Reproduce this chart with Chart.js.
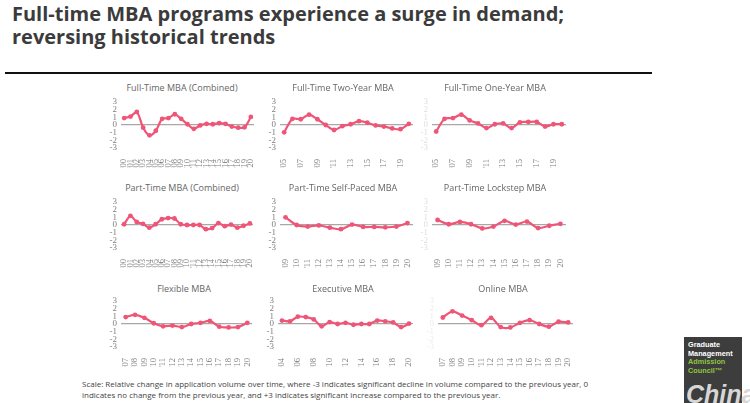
<!DOCTYPE html>
<html><head><meta charset="utf-8">
<script src="https://cdn.jsdelivr.net/npm/chart.js@4/dist/chart.umd.min.js"></script>
<style>
body{margin:0;width:750px;height:403px;background:#fff;position:relative;overflow:hidden;font-family:"Open Sans",sans-serif}
#title{position:absolute;left:12px;top:2px;font:700 20px/23px "Open Sans",sans-serif;color:#3b3b3b;white-space:nowrap}
#rule{position:absolute;left:5px;top:72px;width:647px;height:2px;background:#111}
.ct{position:absolute;width:220px;text-align:center;font:9px/11px "Open Sans",sans-serif;color:#666;white-space:nowrap}
.cw{position:absolute}
#foot{position:absolute;left:82px;top:379px;font:8px/10.5px "Open Sans",sans-serif;color:#444;white-space:nowrap}
#logo{position:absolute;left:684px;top:337px;width:58px;height:66px;background:#3d3d3d;overflow:hidden}
#logo .t{position:absolute;left:4px;top:4px;font:700 7.3px/8.6px "Liberation Sans",sans-serif;color:#fff;white-space:nowrap}
#logo .g{color:#8dc63f}
#china{position:absolute;left:686px;top:381px;font:italic 700 25px/26px "Liberation Sans",sans-serif;color:#d6d6d6;white-space:nowrap}
</style></head>
<body>
<div id="title">Full-time MBA programs experience a surge in demand;<br>reversing historical trends</div>
<div id="rule"></div>
<div id="foot">Scale: Relative change in application volume over time, where -3 indicates significant decline in volume compared to the previous year, 0<br>indicates no change from the previous year, and +3 indicates significant increase compared to the previous year.</div>
<div id="logo"><div class="t">Graduate<br>Management<br><span class="g">Admission<br>Council™</span></div></div>
<div id="china">China</div>
<script>
// ---- categories (years) ----
const years00to20 = ["'00","'01","'02","'03","'04","'05","'06","'07","'08","'09","'10","'11","'12","'13","'14","'15","'16","'17","'18","'19","'20"];
const years05to20 = ["'05","'06","'07","'08","'09","'10","'11","'12","'13","'14","'15","'16","'17","'18","'19","'20"];
const years09to20 = ["'09","'10","'11","'12","'13","'14","'15","'16","'17","'18","'19","'20"];
const years07to20 = ["'07","'08","'09","'10","'11","'12","'13","'14","'15","'16","'17","'18","'19","'20"];
const years04to20 = ["'04","'05","'06","'07","'08","'09","'10","'11","'12","'13","'14","'15","'16","'17","'18","'19","'20"];

// ---- series values ----
const fullTimeCombined = [0.9,1.1,1.7,-0.35,-1.35,-0.75,0.8,0.9,1.4,0.8,0.1,-0.5,-0.05,0.15,0.1,0.25,0.15,-0.2,-0.35,-0.3,1.05];
const fullTimeTwoYear = [-0.95,0.8,0.75,1.35,0.75,0.0,-0.65,-0.15,0.1,0.5,0.3,-0.05,-0.2,-0.45,-0.55,0.15];
const fullTimeOneYear = [-0.85,0.8,0.9,1.35,0.6,0.2,-0.4,0.1,0.2,-0.4,0.35,0.4,0.4,-0.2,0.1,0.1];
const partTimeCombined = [0.1,1.2,0.4,0.15,-0.35,0.1,0.75,0.9,0.85,0.1,0.0,0.0,0.0,-0.55,-0.4,0.25,-0.15,0.05,-0.35,-0.1,0.2];
const partTimeSelfPaced = [1.0,0.0,-0.2,-0.05,-0.35,-0.55,0.05,-0.25,-0.25,-0.3,-0.2,0.25];
const partTimeLockstep = [0.65,0.1,0.4,0.1,-0.45,-0.2,0.55,0.05,0.45,-0.4,-0.1,0.15];
const flexibleMBA = [0.9,1.2,0.8,0.1,-0.3,-0.2,-0.4,0.0,0.15,0.4,-0.35,-0.45,-0.4,0.15];
const executiveMBA = [0.45,0.35,0.95,0.9,0.6,-0.3,0.25,0.0,0.15,-0.1,0.0,0.0,0.45,0.35,0.2,-0.4,0.05];
const onlineMBA = [0.85,1.65,1.1,0.5,-0.15,0.8,-0.4,-0.45,0.15,0.5,0.0,-0.35,0.3,0.2];

// ---- y tick range ----
const yMin = -3, yMax = 3, yStep = 1;

const PINK = '#ef5577';
const panels = [
  {title:'Full-Time MBA (Combined)', labels:years00to20, data:fullTimeCombined, every:1, cx:100, cy:92, cw:164, yw:21, r:10, tx:182, ty:82, tc:'#7f7f7f'},
  {title:'Full-Time Two-Year MBA', labels:years05to20, data:fullTimeTwoYear, every:2, cx:258, cy:92, cw:170, yw:22, r:15, tx:343, ty:82, tc:'#7f7f7f'},
  {title:'Full-Time One-Year MBA', labels:years05to20, data:fullTimeOneYear, every:2, cx:415, cy:92, cw:160, yw:17, r:9, tx:495, ty:82, tc:'#dedede'},
  {title:'Part-Time MBA (Combined)', labels:years00to20, data:partTimeCombined, every:1, cx:100, cy:192, cw:164, yw:21, r:11, tx:182, ty:182, tc:'#7f7f7f'},
  {title:'Part-Time Self-Paced MBA', labels:years09to20, data:partTimeSelfPaced, every:1, cx:258, cy:192, cw:170, yw:22, r:15, tx:343, ty:182, tc:'#7f7f7f'},
  {title:'Part-Time Lockstep MBA', labels:years09to20, data:partTimeLockstep, every:1, cx:415, cy:192, cw:160, yw:17, r:9, tx:495, ty:182, tc:'#dedede'},
  {title:'Flexible MBA', labels:years07to20, data:flexibleMBA, every:1, cx:100, cy:291, cw:164, yw:21, r:12, tx:184, ty:283, tc:'#7f7f7f'},
  {title:'Executive MBA', labels:years04to20, data:executiveMBA, every:2, cx:258, cy:291, cw:170, yw:20, r:15, tx:343, ty:283, tc:'#7f7f7f'},
  {title:'Online MBA', labels:years07to20, data:onlineMBA, every:1, cx:423, cy:291, cw:160, yw:15, r:10, tx:503, ty:283, tc:'#ececec'}
];

const CH = 76, TOP = 10, XH = 20;
panels.forEach(p => {
  const t = document.createElement('div');
  t.className = 'ct'; t.textContent = p.title;
  t.style.left = (p.tx - 110) + 'px'; t.style.top = p.ty + 'px';
  document.body.appendChild(t);

  const w = document.createElement('div');
  w.className = 'cw';
  w.style.left = p.cx + 'px'; w.style.top = p.cy + 'px';
  w.style.width = p.cw + 'px'; w.style.height = CH + 'px';
  const c = document.createElement('canvas');
  c.width = p.cw; c.height = CH;
  w.appendChild(c);
  document.body.appendChild(w);

  new Chart(c, {
    type:'line',
    data:{labels:p.labels, datasets:[{data:p.data, borderColor:PINK, backgroundColor:PINK,
      borderWidth:2.2, pointRadius:2.4, pointBorderWidth:0, pointBackgroundColor:PINK, tension:0.3, fill:false}]},
    options:{
      responsive:false, animation:false, devicePixelRatio:1,
      layout:{padding:{top:TOP, right:p.r, left:0, bottom:0}},
      plugins:{legend:{display:false}, tooltip:{enabled:false}, title:{display:false}},
      scales:{
        x:{type:'category', offset:true, grid:{display:false}, border:{display:false},
          ticks:{autoSkip:false, maxRotation:90, minRotation:90, padding:3,
            font:{family:'Liberation Serif', size:8.5}, color:'#7f7f7f',
            callback:function(v,i){ return i % p.every === 0 ? this.getLabelForValue(v) : ''; }},
          afterFit(sc){ sc.height = XH; sc.paddingLeft = 0; sc.paddingRight = 0; }},
        y:{min:yMin, max:yMax,
          ticks:{stepSize:yStep, autoSkip:false, padding:4, font:{family:'Liberation Serif', size:9}, color:p.tc},
          grid:{drawTicks:false, lineWidth:1.3, color:ctx => ctx.tick && ctx.tick.value === 0 ? '#a8a8a8' : 'rgba(0,0,0,0)'},
          border:{display:false},
          afterFit(sc){ sc.width = p.yw; sc.paddingTop = 0; sc.paddingBottom = 0; }}
      }
    }
  });
});
</script>
</body></html>
